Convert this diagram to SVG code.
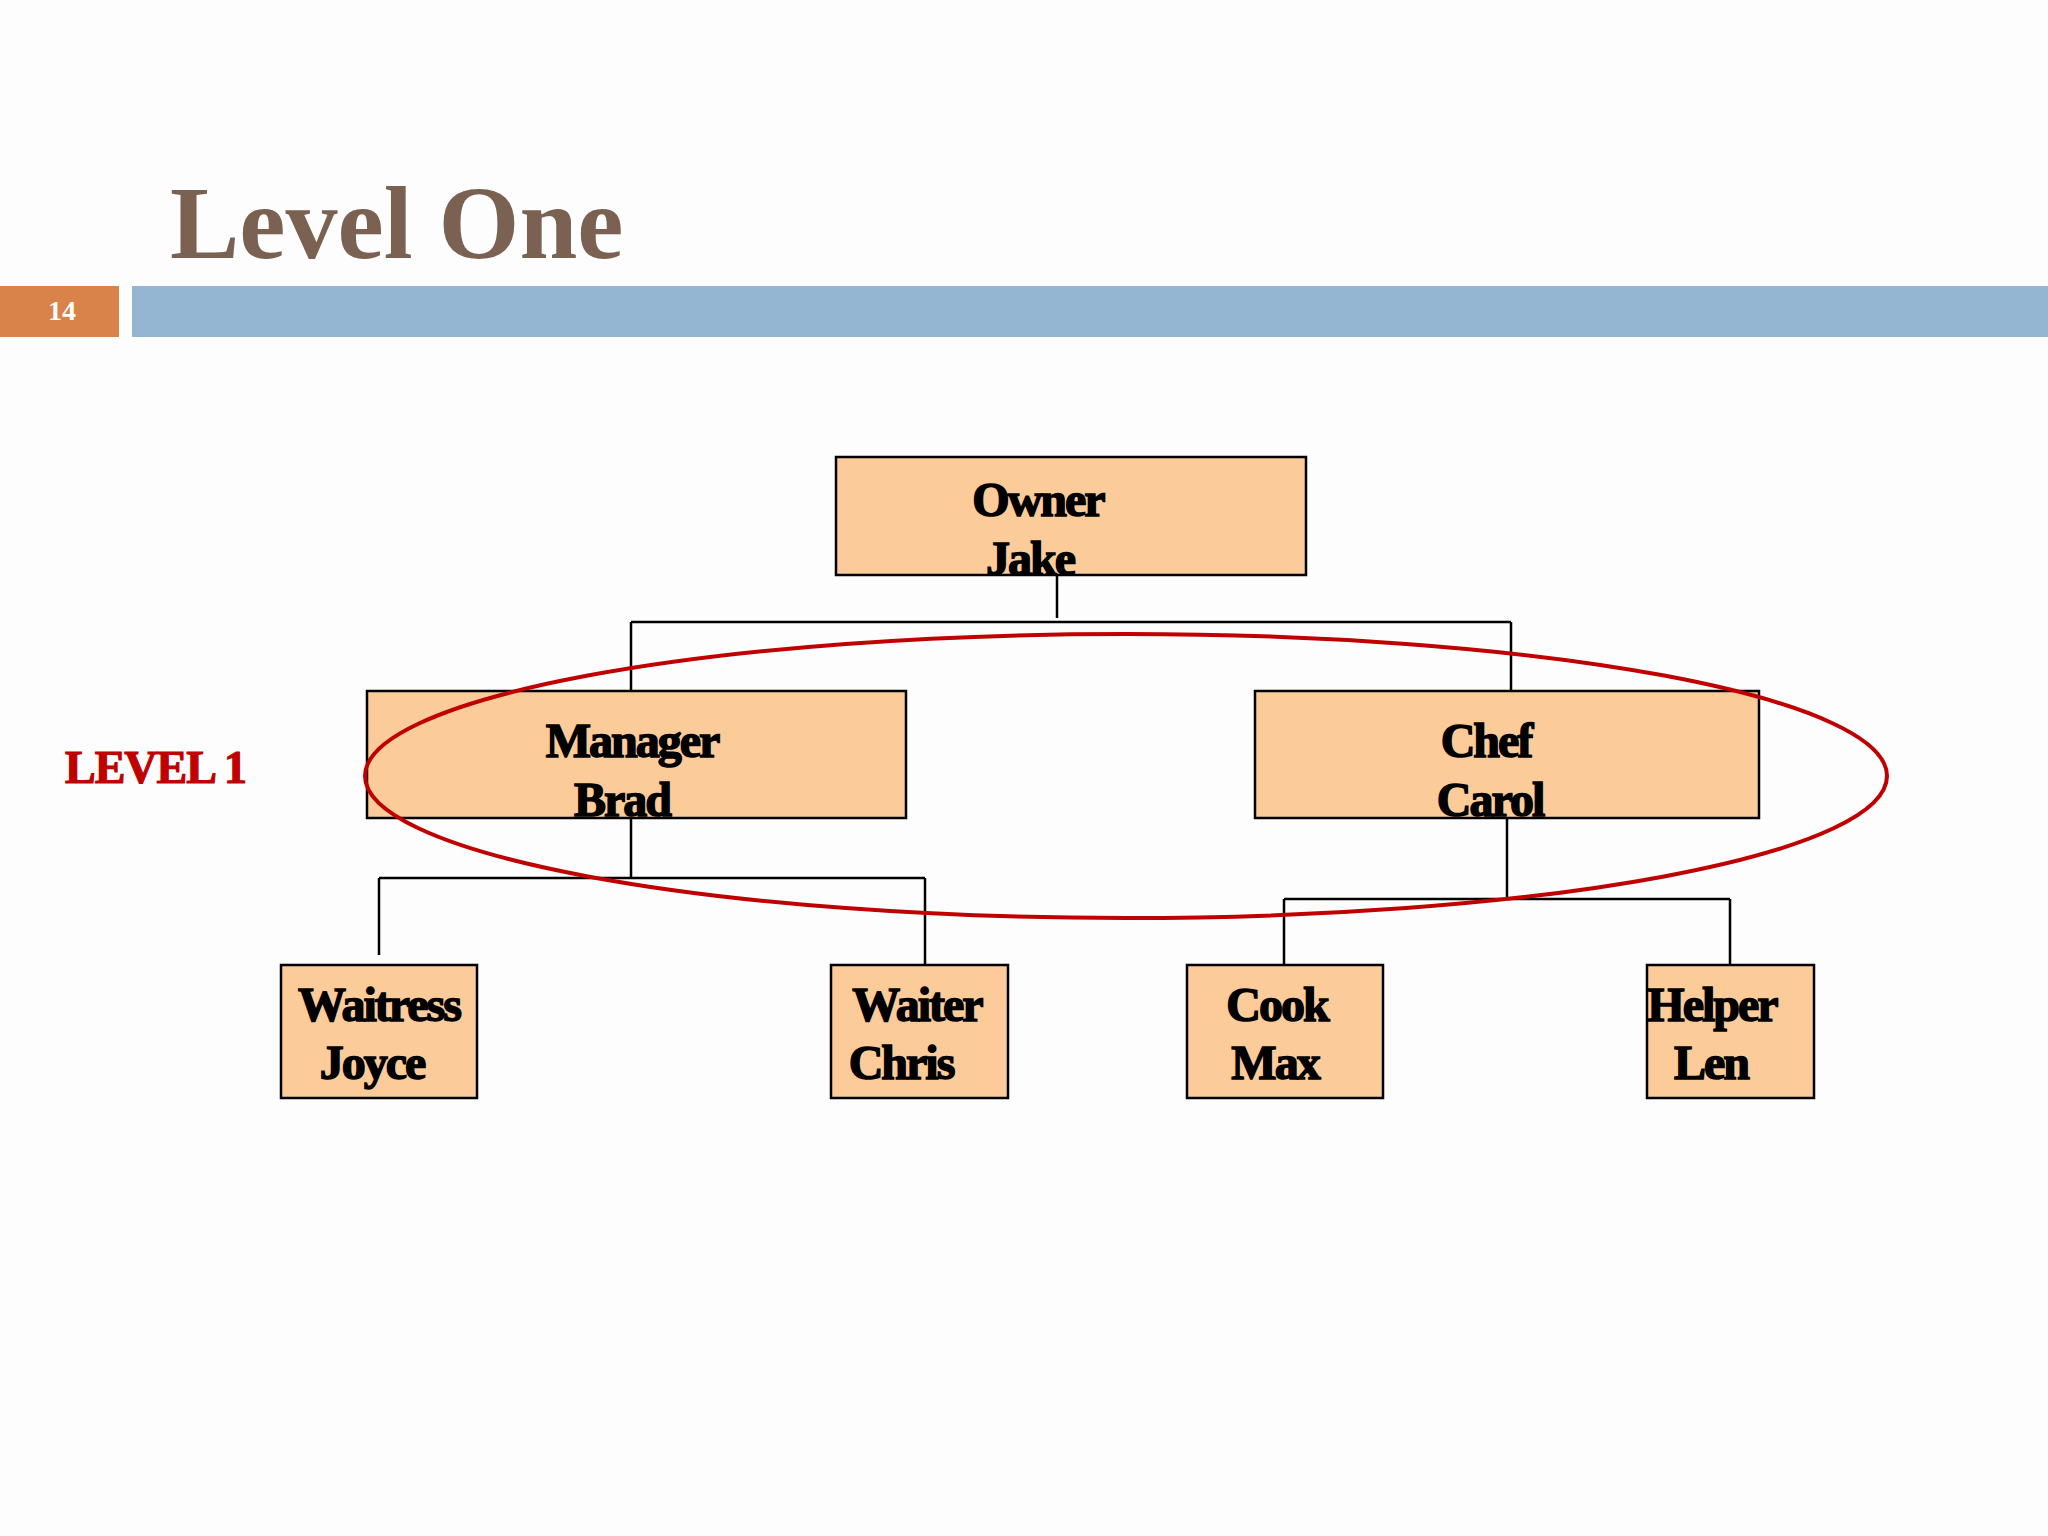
<svg xmlns="http://www.w3.org/2000/svg" width="2048" height="1536" viewBox="0 0 2048 1536">
<style>
.box{fill:#fccb9a;stroke:#000;stroke-width:2.5}
.t{font-family:"Liberation Serif",serif;font-weight:bold;font-size:48px;fill:#000;stroke:#000;stroke-width:1.5;text-anchor:middle;letter-spacing:-2px}
.c{stroke:#000;stroke-width:2.5;fill:none}
</style>
<rect width="2048" height="1536" fill="#fdfdfd"/>
<text x="170" y="258" font-family="Liberation Serif,serif" font-weight="bold" font-size="104" fill="#7a6152">Level One</text>
<rect x="0" y="286" width="119" height="51" fill="#d9824a"/>
<rect x="132" y="286" width="1916" height="51" fill="#95b6d2"/>
<text x="62" y="320" font-family="Liberation Serif,serif" font-weight="bold" font-size="28" fill="#fff" text-anchor="middle">14</text>
<g id="connectors">
<path class="c" d="M1057 575V618M631 622H1511M631 622V691M1511 622V691"/>
<path class="c" d="M631 818V878M379 878H925M379 878V955M925 878V965"/>
<path class="c" d="M1507 818V899M1284 899H1730M1284 899V965M1730 899V965"/>
</g>
<g id="owner"><rect class="box" x="836" y="457" width="470" height="118"/><text class="t" x="1038" y="516">Owner</text><text class="t" x="1030" y="575">Jake</text></g>
<g id="manager"><rect class="box" x="367" y="691" width="539" height="127"/><text class="t" x="632" y="757">Manager</text><text class="t" x="622" y="816">Brad</text></g>
<g id="chef"><rect class="box" x="1255" y="691" width="504" height="127"/><text class="t" x="1486" y="757">Chef</text><text class="t" x="1490" y="816">Carol</text></g>
<g id="waitress"><rect class="box" x="281" y="965" width="196" height="133"/><text class="t" x="379" y="1021">Waitress</text><text class="t" x="372" y="1079">Joyce</text></g>
<g id="waiter"><rect class="box" x="831" y="965" width="177" height="133"/><text class="t" x="917" y="1021">Waiter</text><text class="t" x="901" y="1079">Chris</text></g>
<g id="cook"><rect class="box" x="1187" y="965" width="196" height="133"/><text class="t" x="1277" y="1021">Cook</text><text class="t" x="1275" y="1079">Max</text></g>
<g id="helper"><rect class="box" x="1647" y="965" width="167" height="133"/><text class="t" x="1712" y="1021">Helper</text><text class="t" x="1711" y="1079">Len</text></g>
<ellipse cx="1126" cy="776" rx="761" ry="142" fill="none" stroke="#c00000" stroke-width="4"/>
<text x="65" y="783" font-family="Liberation Serif,serif" font-weight="bold" font-size="46" fill="#c00000" stroke="#c00000" stroke-width="1.2" letter-spacing="-1">LEVEL 1</text>
</svg>
